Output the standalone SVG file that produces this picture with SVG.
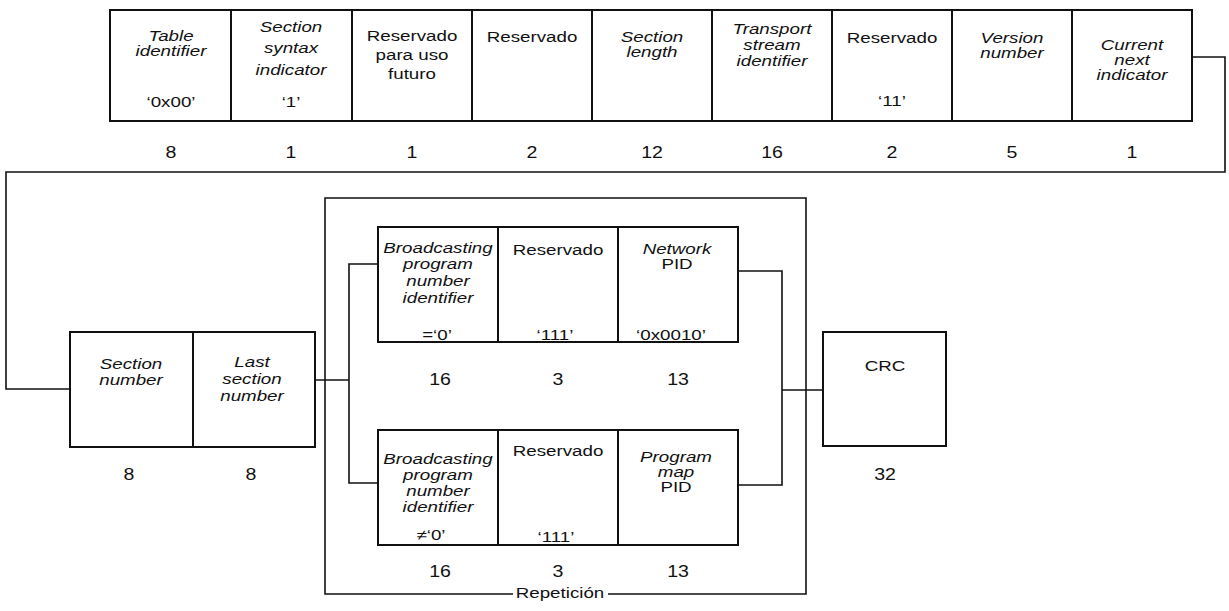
<svg xmlns="http://www.w3.org/2000/svg" width="1229" height="611" viewBox="0 0 1229 611">
<style>
.b{fill:#fff;stroke:#111;stroke-width:2}
.c{fill:none;stroke:#111;stroke-width:1.6}
.t{font-family:"Liberation Sans",Arial,Helvetica,sans-serif;font-size:15px;text-anchor:middle;fill:#111}
.i{font-style:italic}
.n{font-size:17px}
</style>
<rect width="1229" height="611" fill="#fff"/>
<g id="connectors">
<path class="c" d="M1192 57 H1225 V172 H6 V389 H70"/>
<path class="c" d="M315 380 H349"/>
<path class="c" d="M378 264 H349 V483 H378"/>
<path class="c" d="M738 271 H782 V485 H737"/>
<path class="c" d="M782 390 H823"/>
</g>
<g id="repeticion">
<path class="c" d="M513 594 H325 V198 H806 V594 H608"/>
<text class="t" transform="translate(560 598) scale(1.25 1)">Repetición</text>
</g>
<g id="table-identifier">
<rect class="b" x="110" y="10" width="121" height="111"/>
<text class="t i" transform="translate(171 41) scale(1.25 1)"><tspan x="0">Table</tspan><tspan x="0" dy="15">identifier</tspan></text>
<text class="t" transform="translate(171 107) scale(1.25 1)">‘0x00’</text>
<text class="t n" transform="translate(171 158) scale(1.15 1)">8</text>
</g>
<g id="section-syntax-indicator">
<rect class="b" x="231" y="10" width="121" height="111"/>
<text class="t i" transform="translate(291 32) scale(1.25 1)"><tspan x="0">Section</tspan><tspan x="0" dy="21">syntax</tspan><tspan x="0" dy="22">indicator</tspan></text>
<text class="t" transform="translate(291 107) scale(1.25 1)">‘1’</text>
<text class="t n" transform="translate(291 158) scale(1.15 1)">1</text>
</g>
<g id="reservado-futuro">
<rect class="b" x="352" y="10" width="120" height="111"/>
<text class="t" transform="translate(412 41) scale(1.25 1)"><tspan x="0">Reservado</tspan><tspan x="0" dy="19">para uso</tspan><tspan x="0" dy="19">futuro</tspan></text>
<text class="t n" transform="translate(412 158) scale(1.15 1)">1</text>
</g>
<g id="reservado-1">
<rect class="b" x="472" y="10" width="120" height="111"/>
<text class="t" transform="translate(532 42) scale(1.25 1)">Reservado</text>
<text class="t n" transform="translate(532 158) scale(1.15 1)">2</text>
</g>
<g id="section-length">
<rect class="b" x="592" y="10" width="120" height="111"/>
<text class="t i" transform="translate(652 42) scale(1.25 1)"><tspan x="0">Section</tspan><tspan x="0" dy="15">length</tspan></text>
<text class="t n" transform="translate(652 158) scale(1.15 1)">12</text>
</g>
<g id="transport-stream-identifier">
<rect class="b" x="712" y="10" width="120" height="111"/>
<text class="t i" transform="translate(772 34) scale(1.25 1)"><tspan x="0">Transport</tspan><tspan x="0" dy="16">stream</tspan><tspan x="0" dy="16">identifier</tspan></text>
<text class="t n" transform="translate(772 158) scale(1.15 1)">16</text>
</g>
<g id="reservado-2">
<rect class="b" x="832" y="10" width="120" height="111"/>
<text class="t" transform="translate(892 43) scale(1.25 1)">Reservado</text>
<text class="t" transform="translate(892 106) scale(1.25 1)">‘11’</text>
<text class="t n" transform="translate(892 158) scale(1.15 1)">2</text>
</g>
<g id="version-number">
<rect class="b" x="952" y="10" width="120" height="111"/>
<text class="t i" transform="translate(1012 43) scale(1.25 1)"><tspan x="0">Version</tspan><tspan x="0" dy="15">number</tspan></text>
<text class="t n" transform="translate(1012 158) scale(1.15 1)">5</text>
</g>
<g id="current-next-indicator">
<rect class="b" x="1072" y="10" width="120" height="111"/>
<text class="t i" transform="translate(1132 50) scale(1.25 1)"><tspan x="0">Current</tspan><tspan x="0" dy="15">next</tspan><tspan x="0" dy="15">indicator</tspan></text>
<text class="t n" transform="translate(1132 158) scale(1.15 1)">1</text>
</g>
<g id="section-number">
<rect class="b" x="70" y="332" width="123" height="115"/>
<text class="t i" transform="translate(131 369) scale(1.25 1)"><tspan x="0">Section</tspan><tspan x="0" dy="16">number</tspan></text>
<text class="t n" transform="translate(129 480) scale(1.15 1)">8</text>
</g>
<g id="last-section-number">
<rect class="b" x="193" y="332" width="122" height="115"/>
<text class="t i" transform="translate(252 367) scale(1.25 1)"><tspan x="0">Last</tspan><tspan x="0" dy="17">section</tspan><tspan x="0" dy="17">number</tspan></text>
<text class="t n" transform="translate(251 480) scale(1.15 1)">8</text>
</g>
<g id="bpni-0">
<rect class="b" x="378" y="227" width="120" height="115"/>
<text class="t i" transform="translate(438 253) scale(1.25 1)"><tspan x="0">Broadcasting</tspan><tspan x="0" dy="16">program</tspan><tspan x="0" dy="17">number</tspan><tspan x="0" dy="17">identifier</tspan></text>
<text class="t" transform="translate(437 340) scale(1.25 1)">=‘0’</text>
<text class="t n" transform="translate(440 385) scale(1.15 1)">16</text>
</g>
<g id="reservado-3">
<rect class="b" x="498" y="227" width="120" height="115"/>
<text class="t" transform="translate(558 255) scale(1.25 1)">Reservado</text>
<text class="t" transform="translate(555 340) scale(1.25 1)">‘111’</text>
<text class="t n" transform="translate(558 385) scale(1.15 1)">3</text>
</g>
<g id="network-pid">
<rect class="b" x="618" y="227" width="120" height="115"/>
<text class="t" transform="translate(677 254) scale(1.25 1)"><tspan x="0" font-style="italic">Network</tspan><tspan x="0" dy="15">PID</tspan></text>
<text class="t" transform="translate(671 340) scale(1.25 1)">‘0x0010’</text>
<text class="t n" transform="translate(678 385) scale(1.15 1)">13</text>
</g>
<g id="bpni-not0">
<rect class="b" x="378" y="430" width="120" height="115"/>
<text class="t i" transform="translate(438 464) scale(1.25 1)"><tspan x="0">Broadcasting</tspan><tspan x="0" dy="16">program</tspan><tspan x="0" dy="16">number</tspan><tspan x="0" dy="16">identifier</tspan></text>
<text class="t" transform="translate(431 540) scale(1.25 1)">≠‘0’</text>
<text class="t n" transform="translate(440 577) scale(1.15 1)">16</text>
</g>
<g id="reservado-4">
<rect class="b" x="498" y="430" width="120" height="115"/>
<text class="t" transform="translate(558 456) scale(1.25 1)">Reservado</text>
<text class="t" transform="translate(556 542) scale(1.25 1)">‘111’</text>
<text class="t n" transform="translate(558 577) scale(1.15 1)">3</text>
</g>
<g id="program-map-pid">
<rect class="b" x="618" y="430" width="120" height="115"/>
<text class="t" transform="translate(676 462) scale(1.25 1)"><tspan x="0" font-style="italic">Program</tspan><tspan x="0" dy="15" font-style="italic">map</tspan><tspan x="0" dy="15">PID</tspan></text>
<text class="t n" transform="translate(678 577) scale(1.15 1)">13</text>
</g>
<g id="crc">
<rect class="b" x="823" y="332" width="123" height="114"/>
<text class="t" transform="translate(885 371) scale(1.25 1)">CRC</text>
<text class="t n" transform="translate(885 480) scale(1.15 1)">32</text>
</g>
</svg>
